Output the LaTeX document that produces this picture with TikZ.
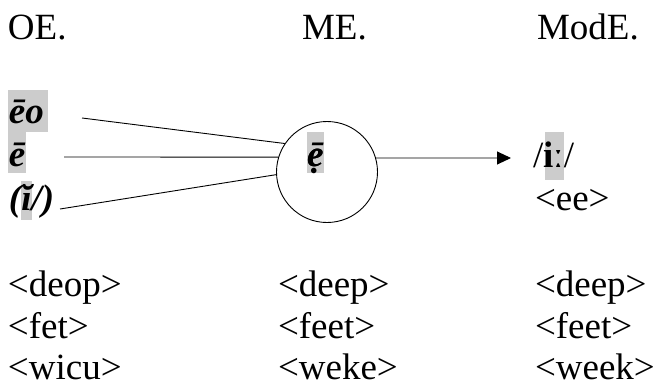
\documentclass[tikz,border=0pt]{standalone}
\usepackage{fontspec}
\setmainfont{Liberation Serif}
\usetikzlibrary{arrows.meta}
\tikzset{
  txt/.style={anchor=base west, inner sep=0pt, outer sep=0pt, font=\fontsize{37}{41}\selectfont},
  hl/.style={fill=black!20, draw=none},
  conn/.style={line width=0.9pt, draw=black},
}
\begin{document}
\begin{tikzpicture}[x=1pt, y=-1pt]
\useasboundingbox (0,0) rectangle (655,388);
% highlights
\fill[hl] (8,90) rectangle (48,132);
\fill[hl] (8,132) rectangle (26,173);
\fill[hl] (21,181) rectangle (32,220);
\fill[hl] (307,132) rectangle (324,173);
\fill[hl] (545,132) rectangle (564,180);
% headings
\node[txt] (hOE) at (8,39) {OE.};
\node[txt] (hME) at (302,39) {ME.};
\node[txt] (hModE) at (537,39) {ModE.};
% left column
\node[txt] (eo) at (9,123) {\bfseries\itshape ēo};
\node[txt] (e) at (9,166) {\bfseries\itshape ē};
\node[txt] (i) at (9,210) {\bfseries\itshape (ĭ/)};
% circle
\node[draw, circle, line width=0.9pt, minimum size=101pt, inner sep=0pt] (c) at (327,172) {};
\node[txt] (me) at (307,166) {\bfseries\itshape \rlap{ẹ}ē};
% right column
\node[txt] (ii) at (533,167) {/\textbf{iː}/};
\node[txt] (ee) at (535,210) {<ee>};
% connectors
\coordinate (s1) at (82,118);
\coordinate (s2) at (64,157);
\coordinate (s3) at (60,209);
\coordinate (t) at (511,158);
\draw[conn] (s1) -- (c.146);
\draw[conn] (s2) -- (c.163);
\draw[conn] (s3) -- (c.183);
\draw[conn, -{Triangle[length=14pt,width=13pt]}] (c.16) -- (t);
% bottom rows
\node[txt] (a1) at (8,296) {<deop>};
\node[txt] (a2) at (8,338) {<fet>};
\node[txt] (a3) at (8,379) {<wicu>};
\node[txt] (b1) at (278,296) {<deep>};
\node[txt] (b2) at (278,338) {<feet>};
\node[txt] (b3) at (278,379) {<weke>};
\node[txt] (d1) at (535,296) {<deep>};
\node[txt] (d2) at (535,338) {<feet>};
\node[txt] (d3) at (535,379) {<week>};
\end{tikzpicture}
\end{document}
